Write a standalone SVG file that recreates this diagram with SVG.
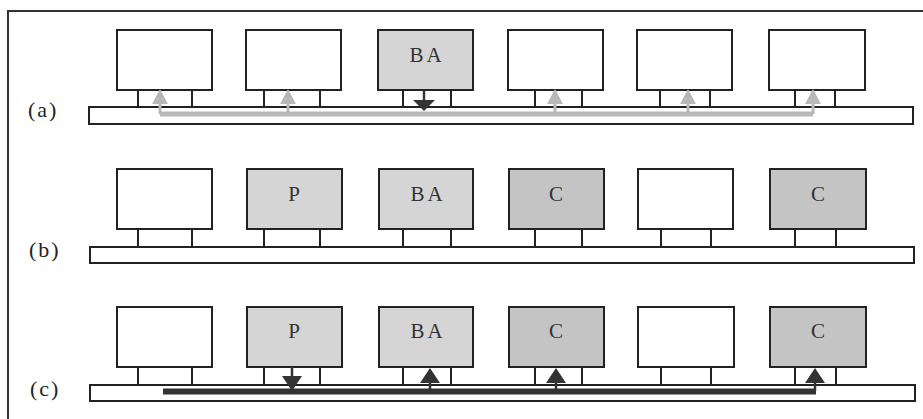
<svg xmlns="http://www.w3.org/2000/svg" width="923" height="419" viewBox="0 0 923 419">
<style>
.frame{fill:none;stroke:#333;stroke-width:2}
.box{stroke:#222;stroke-width:2}
.w{fill:#fff}
.g1{fill:#d5d5d5}
.g2{fill:#c4c4c4}
.bus{fill:#fff;stroke:#222;stroke-width:2}
.leg{stroke:#222;stroke-width:2;fill:none}
.lbl{font-family:"Liberation Serif",serif;font-size:22px;fill:#222;letter-spacing:2px}
.t{font-family:"Liberation Serif",serif;font-size:21px;fill:#333;text-anchor:middle}
.sp{letter-spacing:3px}
.ga{stroke:#b8b8b8;fill:none}
.gh{fill:#b8b8b8}
.da{stroke:#333;fill:none}
.dh{fill:#333}
</style>
<rect width="923" height="419" fill="#fff"/>
<path class="frame" d="M8,419 V11 H923"/>

<g id="row-a">
<text class="lbl" x="28" y="117">(a)</text>
<rect class="bus" x="89" y="107" width="824" height="17"/>
<g id="a1"><rect class="box w" x="117" y="30" width="95" height="60"/><path class="leg" d="M138,90V107M192,90V107"/></g>
<g id="a2"><rect class="box w" x="246" y="30" width="95" height="60"/><path class="leg" d="M264,90V107M320,90V107"/></g>
<g id="a3"><rect class="box g1" x="378" y="30" width="95" height="60"/><path class="leg" d="M403,90V107M451,90V107"/><text class="t sp" x="427" y="62">BA</text></g>
<g id="a4"><rect class="box w" x="508" y="30" width="95" height="60"/><path class="leg" d="M535,90V107M582,90V107"/></g>
<g id="a5"><rect class="box w" x="637" y="30" width="95" height="60"/><path class="leg" d="M660,90V107M710,90V107"/></g>
<g id="a6"><rect class="box w" x="769" y="30" width="96" height="60"/><path class="leg" d="M795,90V107M835,90V107"/></g>
</g>

<g id="row-b">
<text class="lbl" x="29" y="257">(b)</text>
<rect class="bus" x="90" y="247" width="824" height="16"/>
<g id="b1"><rect class="box w" x="117" y="169" width="95" height="60"/><path class="leg" d="M138,229V247M192,229V247"/></g>
<g id="b2"><rect class="box g1" x="247" y="169" width="95" height="60"/><path class="leg" d="M264,229V247M320,229V247"/><text class="t" x="294" y="201">P</text></g>
<g id="b3"><rect class="box g1" x="379" y="169" width="94" height="60"/><path class="leg" d="M403,229V247M451,229V247"/><text class="t sp" x="428" y="201">BA</text></g>
<g id="b4"><rect class="box g2" x="509" y="169" width="95" height="60"/><path class="leg" d="M535,229V247M582,229V247"/><text class="t" x="556" y="201">C</text></g>
<g id="b5"><rect class="box w" x="638" y="169" width="95" height="60"/><path class="leg" d="M661,229V247M711,229V247"/></g>
<g id="b6"><rect class="box g2" x="770" y="169" width="96" height="60"/><path class="leg" d="M795,229V247M836,229V247"/><text class="t" x="818" y="201">C</text></g>
</g>

<g id="row-c">
<text class="lbl" x="30" y="396">(c)</text>
<rect class="bus" x="90" y="385" width="825" height="16"/>
<g id="c1"><rect class="box w" x="117" y="307" width="95" height="60"/><path class="leg" d="M138,367V385M192,367V385"/></g>
<g id="c2"><rect class="box g1" x="247" y="307" width="95" height="60"/><path class="leg" d="M264,367V385M320,367V385"/><text class="t" x="294" y="338">P</text></g>
<g id="c3"><rect class="box g1" x="379" y="307" width="94" height="60"/><path class="leg" d="M403,367V385M451,367V385"/><text class="t sp" x="428" y="338">BA</text></g>
<g id="c4"><rect class="box g2" x="509" y="307" width="95" height="60"/><path class="leg" d="M535,367V385M582,367V385"/><text class="t" x="556" y="338">C</text></g>
<g id="c5"><rect class="box w" x="638" y="307" width="96" height="60"/><path class="leg" d="M661,367V385M711,367V385"/></g>
<g id="c6"><rect class="box g2" x="770" y="307" width="96" height="60"/><path class="leg" d="M795,367V385M836,367V385"/><text class="t" x="818" y="338">C</text></g>
</g>

<g id="connectors">
<path class="ga" stroke-width="5" d="M160,114H813"/>
<path class="ga" stroke-width="3" d="M160,114V102M288,114V102M555,114V102M688,114V102M813,114V102"/>
<path class="gh" d="M160,89L152,104H168Z M288,89L280,104H296Z M555,89L547,104H563Z M688,89L680,104H696Z M813,89L805,104H821Z"/>
<path class="da" stroke-width="2.5" d="M424,90V101"/>
<path class="dh" d="M413,100H435L429,106L424,111L419,106Z"/>
<path class="da" stroke-width="6" d="M163,391.5H816"/>
<path class="da" stroke-width="2.5" d="M292,367V378M430,391V382M556,391V382M815,391V382"/>
<path class="dh" d="M282,376H302L292,391Z M430,368L420,383H440Z M556,368L546,383H566Z M815,368L805,383H825Z"/>
</g>
</svg>
